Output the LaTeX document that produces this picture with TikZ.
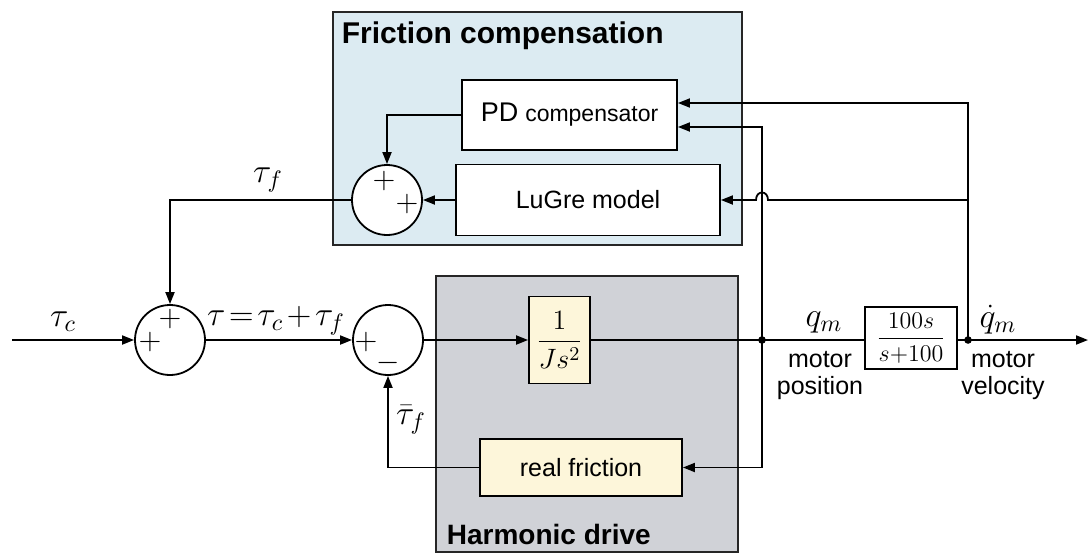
\RequirePackage{fix-cm}
\documentclass[tikz,border=0pt]{standalone}
\usepackage{amsmath}
\usepackage{fontspec}
\setmainfont{Liberation Sans}
\usetikzlibrary{positioning, arrows.meta, calc}
\definecolor{compBlue}{HTML}{DCEBF2}
\definecolor{driveGray}{HTML}{D0D2D7}
\definecolor{blockCream}{HTML}{FDF6DA}

\begin{document}
\begin{tikzpicture}[x=0.5pt, y=-0.5pt, line width=0.9pt,
    group/.style={draw=black!85, line width=1pt},
    block/.style={draw, fill=white, inner sep=1pt, font=\fontsize{12.5}{14}\selectfont},
    tf/.style={block, fill=blockCream},
    sum/.style={draw, circle, fill=white, minimum size=35pt, inner sep=0pt},
    sign/.style={inner sep=0pt, font=\fontsize{15}{16}\selectfont},
    sig/.style={inner sep=0pt, font=\fontsize{17}{19}\selectfont},
    txt/.style={align=center, inner sep=0pt, font=\fontsize{12.5}{13.5}\selectfont},
    title/.style={anchor=base west, inner sep=0pt, font=\bfseries\fontsize{15}{18}\selectfont},
    arr/.style={-{Triangle[length=6pt, width=4.5pt]}}]
  \useasboundingbox (0,0) rectangle (1090,557);

  % the two grouping boxes
  \draw[group, fill=compBlue] (333,12) rectangle (742,245);
  \draw[group, fill=driveGray] (436,276) rectangle (738,552);
  \node[title] (fctitle) at (341,43) {Friction compensation};
  \node[title, font=\bfseries\fontsize{14}{16}\selectfont] (hdtitle) at (446,544) {Harmonic drive};

  % blocks
  \node[block, minimum width=107.5pt, minimum height=35pt] (pd) at (569.5,115)
    {{\fontsize{13.5}{15}\selectfont PD} {\fontsize{11.5}{13}\selectfont compensator}};
  \node[block, minimum width=132pt, minimum height=35.5pt] (lugre) at (588,200) {LuGre model};
  \node[tf, minimum width=30.5pt, minimum height=43.5pt] (plant) at (559.5,340)
    {\fontsize{14}{16}\selectfont$\dfrac{1}{Js^2}$};
  \node[tf, minimum width=101pt, minimum height=28.5pt] (fric) at (581,467.5) {real friction};
  \node[block, minimum width=46pt, minimum height=31pt] (filt) at (911,338)
    {\fontsize{12}{14}\selectfont$\dfrac{100s}{s{+}100}$};

  % summing junctions
  \node[sum] (sumf) at (387,200) {};
  \node[sum] (sumc) at (170,340) {};
  \node[sum] (sumd) at (388,340) {};
  \node[sign] (pf1) at (384,181) {$+$};
  \node[sign] (pf2) at (407,204) {$+$};
  \node[sign] (pc1) at (170,319) {$+$};
  \node[sign] (pc2) at (150,342) {$+$};
  \node[sign] (pd1) at (366,342) {$+$};
  \node[sign] (md1) at (388,363) {$-$};

  % branch points
  \coordinate (in) at (12,340);
  \coordinate (out) at (1088,340);
  \coordinate (pos) at (762,340);
  \coordinate (vel) at (968,340);

  % forward path
  \draw[arr] (in) -- (sumc.west);
  \draw[arr] (sumc.east) -- (sumd.west);
  \draw[arr] (sumd.east) -- (plant.west);
  \draw (plant.east) -- (filt.west |- plant.east);
  \draw[arr] (filt.east |- out) -- (out);

  % real friction loop
  \draw[arr] (pos) |- (fric.east);
  \draw[arr] (fric.west) -| (sumd.south);

  % compensation loop
  \draw[arr] (pos) |- ($(pd.east)+(0,12)$);
  \draw[arr] (vel) |- ($(pd.east)+(0,-12)$);
  \draw[arr] (vel |- lugre.east) -- ($(pos |- lugre.east)+(6,0)$)
    .. controls +(0,-10) and +(0,-10) .. ($(pos |- lugre.east)+(-6,0)$) -- (lugre.east);
  \draw[arr] (pd.west) -| (sumf.north);
  \draw[arr] (lugre.west) -- (sumf.east);
  \draw[arr] (sumf.west) -| (sumc.north);

  \fill (pos) circle (1.9pt);
  \fill (vel) circle (1.9pt);

  % signal labels
  \node[sig] (tauc) at (63,322) {$\tau_c$};
  \node[sig] (tau) at (276,321)
    {$\tau\mkern2mu{=}\mkern2mu\tau_c\mkern2mu{+}\mkern2mu\tau_f$};
  \node[sig] (tauf) at (268,180) {$\tau_f$};
  \node[sig] (taur) at (411,420) {$\bar{\tau}_f$};
  \node[sig] (qm) at (824,322) {$q_m$};
  \node[sig] (dqm) at (998,320) {$\dot{q}_m$};
  \node[txt] (mpos) at (820,376) {motor\\position};
  \node[txt] (mvel) at (1003,376) {motor\\velocity};
\end{tikzpicture}
\end{document}
